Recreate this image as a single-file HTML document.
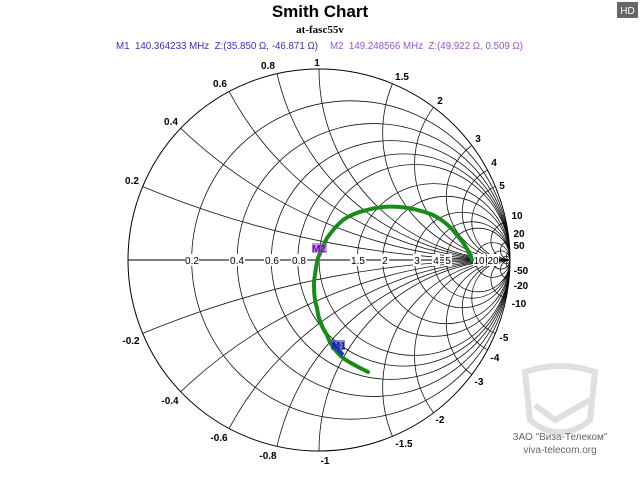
<!DOCTYPE html>
<html><head><meta charset="utf-8"><style>
html,body{margin:0;padding:0;background:#fff;width:640px;height:480px;overflow:hidden;}
svg{display:block;font-family:"Liberation Sans",Arial,sans-serif;}
</style></head><body>
<svg id="s" width="640" height="480" viewBox="0 0 640 480" xmlns="http://www.w3.org/2000/svg">
<rect width="640" height="480" fill="#fff"/>
<rect x="617" y="2" width="21" height="16" fill="#666"/>
<text x="627.5" y="14" font-size="10" fill="#fff" text-anchor="middle">HD</text>
<text x="320" y="17" font-size="17" font-weight="bold" text-anchor="middle" fill="#000">Smith Chart</text>
<text x="320" y="33" font-size="11" font-weight="bold" font-family="Liberation Serif,serif" text-anchor="middle" fill="#000">at-fasc55v</text>
<text x="116" y="49" font-size="10" fill="#3333aa" xml:space="preserve" textLength="202" lengthAdjust="spacingAndGlyphs">M1  140.364233 MHz  Z:(35.850 Ω, -46.871 Ω)</text>
<text x="330" y="49" font-size="10" fill="#9955cc" xml:space="preserve" textLength="193" lengthAdjust="spacingAndGlyphs">M2  149.248566 MHz  Z:(49.922 Ω, 0.509 Ω)</text>
<defs><clipPath id="c"><circle cx="319" cy="260" r="191"/></clipPath></defs>
<g id="grid" fill="none" stroke="#111" stroke-width="0.8" clip-path="url(#c)"></g>
<circle cx="319" cy="260" r="191" fill="none" stroke="#000" stroke-width="1"/>
<line x1="128" y1="260" x2="510" y2="260" stroke="#000" stroke-width="1"/>
<g opacity="0.12" fill="none" stroke="#000" stroke-width="6">
<path d="M525 372 Q560 360 595 372 L590 420 Q560 445 530 420 Z"/>
<path d="M535 405 L555 420 L590 400"/>
</g>
<text x="560" y="440" font-size="10" fill="#666" text-anchor="middle">ЗАО "Виза-Телеком"</text>
<text x="560" y="453" font-size="10" fill="#666" text-anchor="middle">viva-telecom.org</text>
<g font-size="10" font-weight="bold" fill="#000" text-anchor="middle">
<text x="132" y="184">0.2</text>
<text x="171" y="125">0.4</text>
<text x="220" y="87">0.6</text>
<text x="268" y="69">0.8</text>
<text x="317" y="66">1</text>
<text x="402" y="80">1.5</text>
<text x="440" y="104">2</text>
<text x="478" y="142">3</text>
<text x="494" y="166">4</text>
<text x="502" y="189">5</text>
<text x="517" y="219">10</text>
<text x="519" y="237">20</text>
<text x="519" y="249">50</text>
<text x="131" y="344">-0.2</text>
<text x="170" y="404">-0.4</text>
<text x="219" y="441">-0.6</text>
<text x="268" y="459">-0.8</text>
<text x="325" y="464">-1</text>
<text x="404" y="447">-1.5</text>
<text x="440" y="423">-2</text>
<text x="479" y="385">-3</text>
<text x="495" y="361">-4</text>
<text x="504" y="341">-5</text>
<text x="519" y="307">-10</text>
<text x="521" y="289">-20</text>
<text x="521" y="274">-50</text>
</g>
<g font-size="10" fill="#000" text-anchor="middle">
<g fill="#fff"><rect x="185" y="254" width="14" height="12"/><rect x="229" y="254" width="16" height="12"/><rect x="264" y="254" width="16" height="12"/><rect x="291" y="254" width="16" height="12"/><rect x="350" y="254" width="16" height="12"/><rect x="381" y="254" width="8" height="12"/><rect x="413" y="254" width="8" height="12"/><rect x="432" y="254" width="8" height="12"/><rect x="444" y="254" width="8" height="12"/><rect x="473" y="254" width="13" height="12"/><rect x="487" y="254" width="12" height="12"/></g>
<text x="192" y="264">0.2</text>
<text x="237" y="264">0.4</text>
<text x="272" y="264">0.6</text>
<text x="299" y="264">0.8</text>
<text x="358" y="264">1.5</text>
<text x="385" y="264">2</text>
<text x="417" y="264">3</text>
<text x="436" y="264">4</text>
<text x="448" y="264">5</text>
<text x="479" y="264">10</text>
<text x="493" y="264">20</text>
</g>
<path d="M368 372 C356 366 347 361 343 358 C336 352 330 344 327 335 C321 326 318 317 317 308 C314 299 314 290 314 282 C315 274 316 266 318 258 C321 251 324 244 327 238 C332 231 337 225 343 220 C350 215 358 212 367 210 C378 207 389 206 400 207 C412 208 423 211 433 215 C443 220 451 227 457 235 C464 243 469 251 472 260" fill="none" stroke="#1a8a1a" stroke-width="4" stroke-linecap="round"/>
<path d="M332 342 L343 355" stroke="#2233bb" stroke-width="4"/>
<rect x="331" y="340" width="14" height="10" fill="#3344bb" opacity="0.6"/>
<text x="339" y="349" font-size="10" font-weight="bold" fill="#1122aa" text-anchor="middle">M1</text>
<rect x="312" y="243" width="15" height="10" fill="#9955cc" opacity="0.6"/>
<text x="319" y="252" font-size="10" font-weight="bold" fill="#6611aa" text-anchor="middle">M2</text>
</svg>
<script>
(function(){
var g=document.getElementById('grid'),cx=319,cy=260,R=191,ns='http://www.w3.org/2000/svg';
function c(x,y,r){var e=document.createElementNS(ns,'circle');e.setAttribute('cx',x);e.setAttribute('cy',y);e.setAttribute('r',r);g.appendChild(e);}
var rs=[0.2,0.4,0.6,0.8,1,1.5,2,3,4,5,10,20,50];
rs.forEach(function(r){c(cx+R*r/(1+r),cy,R/(1+r));});
rs.forEach(function(x){c(cx+R,cy-R/x,R/x);c(cx+R,cy+R/x,R/x);});
})();
</script>
</body></html>
